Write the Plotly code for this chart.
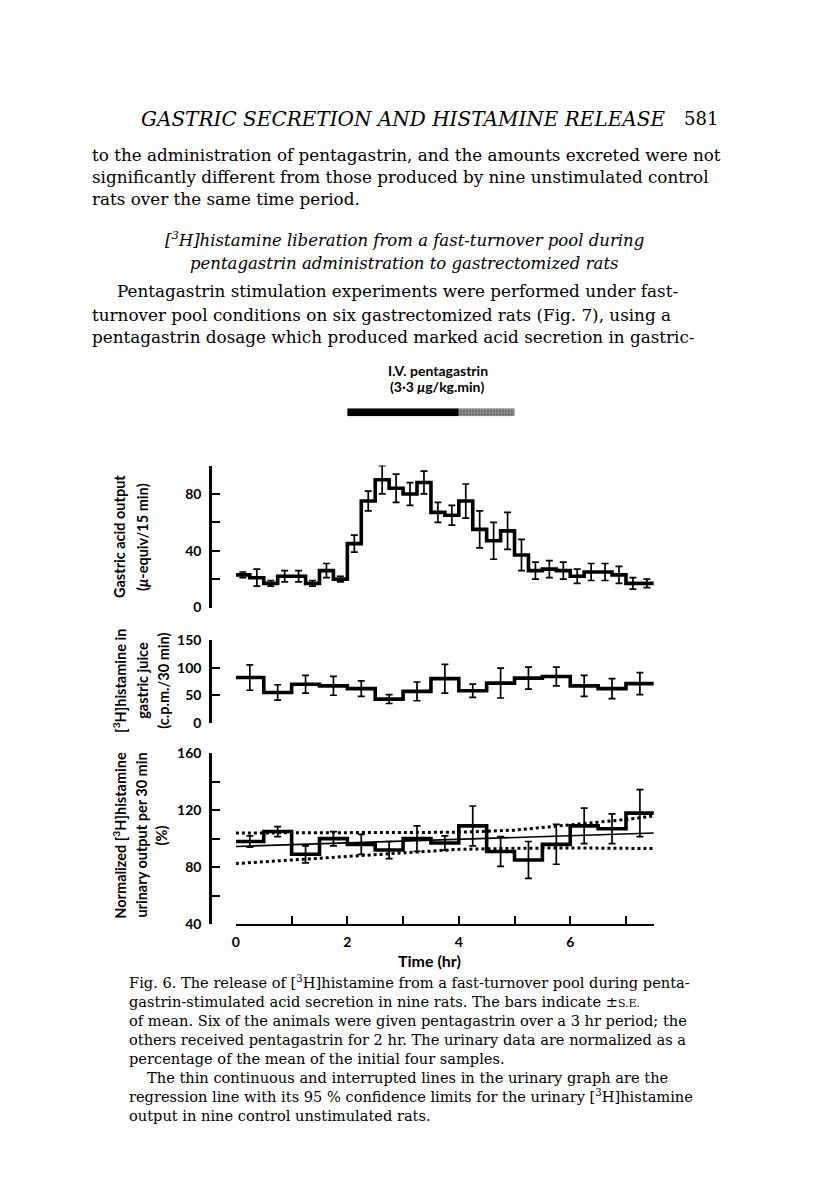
import plotly.graph_objects as go

W, H = 816, 1198


def px(x):
    return x / W


def py(y):
    return 1 - y / H


# ---------------- data ----------------
acid_bin_hr = 0.25
acid_output = [23, 21, 17, 22, 22, 17, 26, 20, 45, 75, 90, 84, 80, 88, 67,
               65, 75, 55, 47, 54, 37, 26, 27, 26, 22, 25, 25, 23, 17, 17]
acid_se = [2, 6, 2, 4, 4, 2, 5, 2, 6, 7, 10, 10, 8, 8, 7,
           7, 12, 13, 13, 13, 11, 6, 6, 6, 5, 6, 6, 6, 4, 3]

juice_bin_hr = 0.5
juice_histamine = [82, 55, 70, 67, 62, 43, 57, 80, 58, 72, 81, 84, 67, 62, 71]
juice_se = [23, 14, 16, 17, 14, 8, 17, 26, 12, 27, 20, 17, 19, 18, 20]

urine_bin_hr = 0.5
urine_histamine = [98, 105, 89, 100, 96, 92, 100, 97, 109, 91, 85, 96, 109, 107, 118]
urine_se = [4, 3.5, 6, 5, 7, 6, 9, 5, 14, 10.5, 13, 14, 12.5, 10.5, 16.5]

regression_t = [0, 7.5]
regression_y = [94.5, 104]
ci_t = [0, 1, 2, 3, 4, 5, 6, 7, 7.5]
ci_upper = [104, 104, 104, 104, 104.5, 106, 109.5, 113.5, 116]
ci_lower = [82.5, 85, 88, 90.5, 92.5, 93.2, 93.5, 93.2, 93]

infusion_start_hr = [2, 4]
infusion_length_hr = [2, 1]

acid_ticks = [0, 20, 40, 60, 80, 100]
acid_ticktext = ["0", "", "40", "", "80", ""]
juice_ticks = [0, 50, 100, 150]
juice_ticktext = ["0", "50", "100", "150"]
urine_ticks = [40, 60, 80, 100, 120, 140, 160]
urine_ticktext = ["40", "", "80", "", "120", "", "160"]
time_ticks = [0, 1, 2, 3, 4, 5, 6, 7]
time_ticktext = ["0", "", "2", "", "4", "", "6", ""]


def steps(vals, w):
    xs = [i * w for i in range(len(vals) + 1)]
    ys = list(vals) + [vals[-1]]
    centers = [(i + 0.5) * w for i in range(len(vals))]
    return xs, ys, centers


fig = go.Figure()

panels = [
    (acid_output, acid_se, acid_bin_hr, "x", "y"),
    (juice_histamine, juice_se, juice_bin_hr, "x2", "y2"),
    (urine_histamine, urine_se, urine_bin_hr, "x3", "y3"),
]

# bottom panel regression + confidence limits (beneath the steps)
fig.add_trace(go.Scatter(x=ci_t, y=ci_upper, mode="lines", xaxis="x3", yaxis="y3",
                         line=dict(color="black", width=3.0, dash="dot"), cliponaxis=False))
fig.add_trace(go.Scatter(x=ci_t, y=ci_lower, mode="lines", xaxis="x3", yaxis="y3",
                         line=dict(color="black", width=3.0, dash="dot"), cliponaxis=False))
fig.add_trace(go.Scatter(x=regression_t, y=regression_y, mode="lines", xaxis="x3", yaxis="y3",
                         line=dict(color="black", width=1.6), cliponaxis=False))

for vals, se, w, xa, ya in panels:
    xs, ys, centers = steps(vals, w)
    fig.add_trace(go.Scatter(x=xs, y=ys, mode="lines", line_shape="hv",
                             line=dict(color="black", width=3.6),
                             xaxis=xa, yaxis=ya, cliponaxis=False))
    fig.add_trace(go.Scatter(x=centers, y=vals, mode="markers",
                             marker=dict(size=1, color="rgba(0,0,0,0)"),
                             error_y=dict(type="data", array=se, color="black",
                                          thickness=1.7, width=3.5),
                             xaxis=xa, yaxis=ya, cliponaxis=False))

# pentagastrin infusion bar
fig.add_trace(go.Bar(x=infusion_length_hr, base=infusion_start_hr, y=[0, 0],
                     orientation="h", width=1, xaxis="x4", yaxis="y4",
                     marker=dict(color=["black", "#4a4a4a"], line=dict(width=0),
                                 pattern=dict(shape=["", "."], fgcolor="black",
                                              size=3, solidity=0.6))))

xdom = [px(225), px(645)]
yaxis_pos = px(199)
tickfont = dict(family="Lato", size=14, color="black", weight="bold")


def yax(domain, rng, ticks, text):
    return dict(domain=domain, range=rng, anchor="free", position=yaxis_pos,
                showline=True, linecolor="black", linewidth=2.6,
                ticks="inside", ticklen=8, tickwidth=2.4, tickcolor="black",
                tickvals=ticks, ticktext=text, tickfont=tickfont,
                ticklabelstandoff=5, showgrid=False, zeroline=False)


hidden_x = dict(domain=xdom, range=[0, 7.5], visible=False)

fig.update_layout(
    width=W, height=H, margin=dict(l=0, r=0, t=0, b=0),
    paper_bgcolor="white", plot_bgcolor="white", showlegend=False,
    hovermode=False, barmode="overlay",
    xaxis=dict(hidden_x, anchor="y"),
    xaxis2=dict(hidden_x, anchor="y2"),
    xaxis3=dict(domain=xdom, range=[0, 7.5], anchor="y3", showline=True,
                linecolor="black", linewidth=2.4, ticks="inside", ticklen=8,
                tickwidth=2.2, tickcolor="black", tickvals=time_ticks,
                ticktext=time_ticktext, tickfont=tickfont, ticklabelstandoff=4,
                showgrid=False, zeroline=False),
    xaxis4=dict(hidden_x, anchor="y4"),
    yaxis=yax([py(599), py(455)], [0, 100], acid_ticks, acid_ticktext),
    yaxis2=yax([py(716), py(632)], [0, 150], juice_ticks, juice_ticktext),
    yaxis3=yax([py(920), py(747)], [40, 160], urine_ticks, urine_ticktext),
    yaxis4=dict(domain=[py(405), py(397)], range=[-0.5, 0.5], visible=False),
)

ann = []


def text(x, y, s, size, family="DejaVu Serif", anchor="left", angle=0, bold=False):
    f = dict(family=family, size=size, color="black")
    if bold:
        f["weight"] = "bold"
    ann.append(dict(x=px(x), y=py(y), xref="paper", yref="paper", text=s,
                    showarrow=False, xanchor=anchor, yanchor="middle",
                    textangle=angle, font=f))


# running header
text(393, 103, "<i>GASTRIC SECRETION AND HISTAMINE RELEASE</i>", 20, anchor="center")
text(711, 103, "581", 18, anchor="right")

body_size = 16.8
text(78, 140, "to the administration of pentagastrin, and the amounts excreted were not", body_size)
text(78, 162.5, "significantly different from those produced by nine unstimulated control", body_size)
text(78, 185, "rats over the same time period.", body_size)

text(394, 225, "<i>[<sup>3</sup>H]histamine liberation from a fast-turnover pool during</i>", 16.5, anchor="center")
text(394, 250, "<i>pentagastrin administration to gastrectomized rats</i>", 16.5, anchor="center")

text(104, 278, "Pentagastrin stimulation experiments were performed under fast-", body_size)
text(78, 302, "turnover pool conditions on six gastrectomized rats (Fig. 7), using a", body_size)
text(78, 325, "pentagastrin dosage which produced marked acid secretion in gastric-", body_size)

# figure labels
text(428, 359, "I.V. pentagastrin", 14, family="Lato", anchor="center", bold=True)
text(428, 375, "(3·3 <i>μ</i>g/kg.min)", 14, family="Lato", anchor="center", bold=True)

tsz = 14.5
text(108, 527, "Gastric acid output", tsz, family="Lato", anchor="center", angle=-90, bold=True)
text(131, 527, "(<i>μ</i>-equiv/15 min)", tsz, family="Lato", anchor="center", angle=-90, bold=True)

text(108, 673, "[<sup>3</sup>H]histamine in", tsz, family="Lato", anchor="center", angle=-90, bold=True)
text(131, 673, "gastric juice", tsz, family="Lato", anchor="center", angle=-90, bold=True)
text(152, 673, "(c.p.m./30 min)", tsz, family="Lato", anchor="center", angle=-90, bold=True)

text(108, 830, "Normalized [<sup>3</sup>H]histamine", tsz, family="Lato", anchor="center", angle=-90, bold=True)
text(130, 830, "urinary output per 30 min", tsz, family="Lato", anchor="center", angle=-90, bold=True)
text(150, 830, "(%)", tsz, family="Lato", anchor="center", angle=-90, bold=True)

text(420, 957, "Time (hr)", 16, family="Lato", anchor="center", bold=True)

# caption
cap = [
    (116, "Fig. 6. The release of [<sup>3</sup>H]histamine from a fast-turnover pool during penta-"),
    (116, "gastrin-stimulated acid secretion in nine rats. The bars indicate ±<span style='font-size:11px'>S.E.</span>"),
    (116, "of mean. Six of the animals were given pentagastrin over a 3 hr period; the"),
    (116, "others received pentagastrin for 2 hr. The urinary data are normalized as a"),
    (116, "percentage of the mean of the initial four samples."),
    (134, "The thin continuous and interrupted lines in the urinary graph are the"),
    (116, "regression line with its 95 % confidence limits for the urinary [<sup>3</sup>H]histamine"),
    (116, "output in nine control unstimulated rats."),
]
for i, (x, s) in enumerate(cap):
    text(x, 979 + i * 19.3, s, 14.6)

fig.update_layout(annotations=ann)
fig.write_html("out.html")
